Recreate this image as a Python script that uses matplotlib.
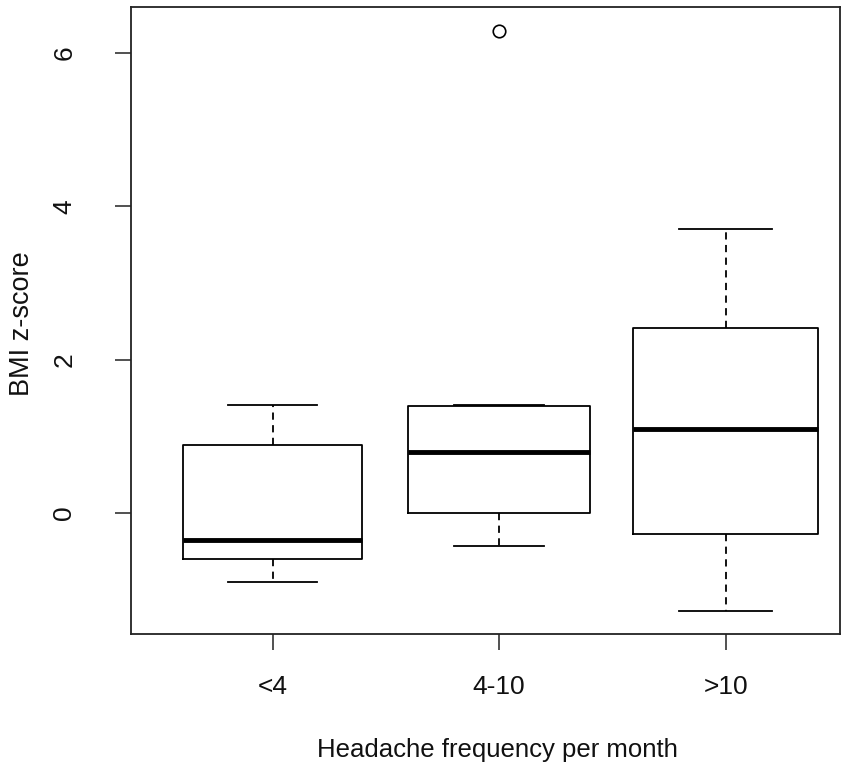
import matplotlib
matplotlib.use("Agg")
import matplotlib.pyplot as plt

categories = ["<4", "4-10", ">10"]
whisker_low = [-0.90, -0.43, -1.28]
q1 = [-0.60, 0.00, -0.27]
median = [-0.35, 0.80, 1.10]
q3 = [0.89, 1.40, 2.41]
whisker_high = [1.41, 1.41, 3.70]
outliers = [[], [6.29], []]
box_widths = [0.79, 0.80, 0.82]

plt.rcParams['font.family'] = ['Liberation Sans', 'DejaVu Sans']

fig = plt.figure(figsize=(8.58, 7.67), dpi=100)
ax = fig.add_axes([131/858, 1-634/767, (840-131)/858, (634-7)/767])

stats = []
for i, c in enumerate(categories):
    stats.append(dict(label=c, whislo=whisker_low[i], q1=q1[i], med=median[i],
                      q3=q3[i], whishi=whisker_high[i], fliers=outliers[i]))

positions = [1, 2, 3]
ax.bxp(stats, positions=positions, widths=box_widths,
       capwidths=[w/2 for w in box_widths],
       boxprops=dict(color='black', linewidth=1.3),
       whiskerprops=dict(color='black', linewidth=1.3, linestyle=(0, (4, 3))),
       capprops=dict(color='black', linewidth=1.3),
       medianprops=dict(color='black', linewidth=3.5, solid_capstyle='butt'),
       flierprops=dict(marker='o', markersize=9, markerfacecolor='none',
                       markeredgecolor='black', markeredgewidth=1.2))

ax.set_xlim(0.375, 3.505)
ax.set_ylim(-1.578, 6.60)
ax.set_yticks([0, 2, 4, 6])
ax.set_yticklabels(['0', '2', '4', '6'], rotation=90, va='center')
ax.set_xticks(positions)
ax.set_xticklabels(categories)
ax.tick_params(axis='both', length=11.5, width=1.1, labelsize=19, color='#222222',
               labelcolor='#111111')
ax.tick_params(axis='y', pad=28)
ax.tick_params(axis='x', pad=18)
for s in ax.spines.values():
    s.set_linewidth(1.3)
    s.set_color('#222222')
ax.set_xlabel("Headache frequency per month", fontsize=18.5, color='#111111')
ax.xaxis.set_label_coords((497-131)/709, -(757-634)/627, transform=ax.transAxes)
ax.xaxis.label.set_va('baseline')
ax.set_ylabel("BMI z-score", fontsize=19.5, color='#111111')
ax.yaxis.set_label_coords(-(131-35)/709, (634-324)/627, transform=ax.transAxes)
ax.yaxis.label.set_va('bottom')

fig.savefig("out.png", dpi=100)
